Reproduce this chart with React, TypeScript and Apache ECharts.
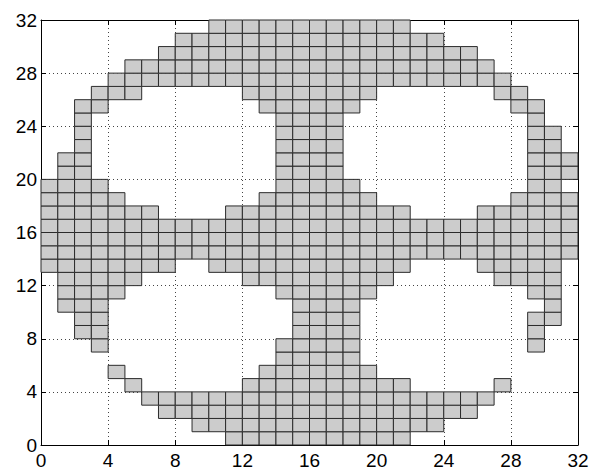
import { useEffect, useRef } from "react";
import * as echarts from "echarts";

// Axis tick values (both axes)
const tickValues = [0, 4, 8, 12, 16, 20, 24, 28, 32];

// Filled cells, listed per row (row index = y of the cell's lower edge).
// Each span [a, b] fills the cells x = a .. b-1.
const rowSpans: [number, number][][] = [
  /* y=0  */ [[11, 22]],
  /* y=1  */ [[9, 24]],
  /* y=2  */ [[7, 26]],
  /* y=3  */ [[6, 27]],
  /* y=4  */ [[5, 6], [12, 22], [27, 28]],
  /* y=5  */ [[4, 5], [13, 20]],
  /* y=6  */ [[14, 19]],
  /* y=7  */ [[3, 4], [14, 19], [29, 30]],
  /* y=8  */ [[2, 4], [15, 19], [29, 30]],
  /* y=9  */ [[2, 4], [15, 19], [29, 31]],
  /* y=10 */ [[1, 4], [15, 19], [30, 31]],
  /* y=11 */ [[1, 5], [14, 20], [29, 31]],
  /* y=12 */ [[1, 6], [12, 21], [27, 31]],
  /* y=13 */ [[0, 8], [10, 22], [26, 31]],
  /* y=14 */ [[0, 32]],
  /* y=15 */ [[0, 32]],
  /* y=16 */ [[0, 32]],
  /* y=17 */ [[0, 7], [11, 22], [26, 32]],
  /* y=18 */ [[0, 5], [13, 20], [28, 32]],
  /* y=19 */ [[0, 4], [14, 19], [29, 31]],
  /* y=20 */ [[1, 3], [14, 18], [29, 32]],
  /* y=21 */ [[1, 3], [14, 18], [29, 32]],
  /* y=22 */ [[2, 3], [14, 18], [29, 31]],
  /* y=23 */ [[2, 3], [14, 18], [29, 31]],
  /* y=24 */ [[2, 3], [14, 18], [29, 30]],
  /* y=25 */ [[2, 4], [13, 19], [28, 30]],
  /* y=26 */ [[3, 6], [12, 20], [27, 29]],
  /* y=27 */ [[4, 28]],
  /* y=28 */ [[5, 27]],
  /* y=29 */ [[7, 26]],
  /* y=30 */ [[8, 24]],
  /* y=31 */ [[10, 22]],
];

const cells: [number, number][] = [];
rowSpans.forEach((spans, y) => {
  spans.forEach(([a, b]) => {
    for (let x = a; x < b; x++) cells.push([x, y]);
  });
});

const labelFont = {
  color: "#000",
  fontSize: 19,
  fontFamily: "Liberation Sans, Arial, sans-serif",
};

const gridDots = { show: true, lineStyle: { color: "#444", width: 1, type: [1, 3] as number[] } };
const frameLine = { show: true, onZero: false, lineStyle: { color: "#000", width: 1 } };
const innerTick = { show: true, inside: true, length: 5, lineStyle: { color: "#000" } };

export default function App() {
  const ref = useRef<HTMLDivElement>(null);

  useEffect(() => {
    document.body.style.margin = "0";
    if (!ref.current) return;
    const chart = echarts.init(ref.current, null, { renderer: "svg" });
    const axisBase = {
      type: "value" as const,
      min: tickValues[0],
      max: tickValues[tickValues.length - 1],
      interval: tickValues[1] - tickValues[0],
    };
    chart.setOption({
      animation: false,
      backgroundColor: "#fff",
      grid: { left: 41, right: 35, top: 20, bottom: 27 },
      xAxis: [
        {
          ...axisBase,
          position: "bottom",
          axisLine: frameLine,
          axisTick: innerTick,
          axisLabel: { ...labelFont, margin: 6 },
          splitLine: gridDots,
        },
        {
          ...axisBase,
          position: "top",
          axisLine: frameLine,
          axisTick: innerTick,
          axisLabel: { show: false },
          splitLine: { show: false },
        },
      ],
      yAxis: [
        {
          ...axisBase,
          position: "left",
          axisLine: frameLine,
          axisTick: innerTick,
          axisLabel: { ...labelFont, margin: 4 },
          splitLine: gridDots,
        },
        {
          ...axisBase,
          position: "right",
          axisLine: frameLine,
          axisTick: innerTick,
          axisLabel: { show: false },
          splitLine: { show: false },
        },
      ],
      series: [
        {
          type: "custom",
          xAxisIndex: 0,
          yAxisIndex: 0,
          data: cells,
          encode: { x: 0, y: 1 },
          renderItem: (_params: any, api: any) => {
            const x = api.value(0);
            const y = api.value(1);
            const p0 = api.coord([x, y + 1]);
            const p1 = api.coord([x + 1, y]);
            return {
              type: "rect",
              shape: { x: p0[0], y: p0[1], width: p1[0] - p0[0], height: p1[1] - p0[1] },
              style: { fill: "#cccccc", stroke: "#2b2b2b", lineWidth: 1 },
            };
          },
        },
      ],
    });
    return () => chart.dispose();
  }, []);

  return <div ref={ref} style={{ width: 613, height: 472 }} />;
}
